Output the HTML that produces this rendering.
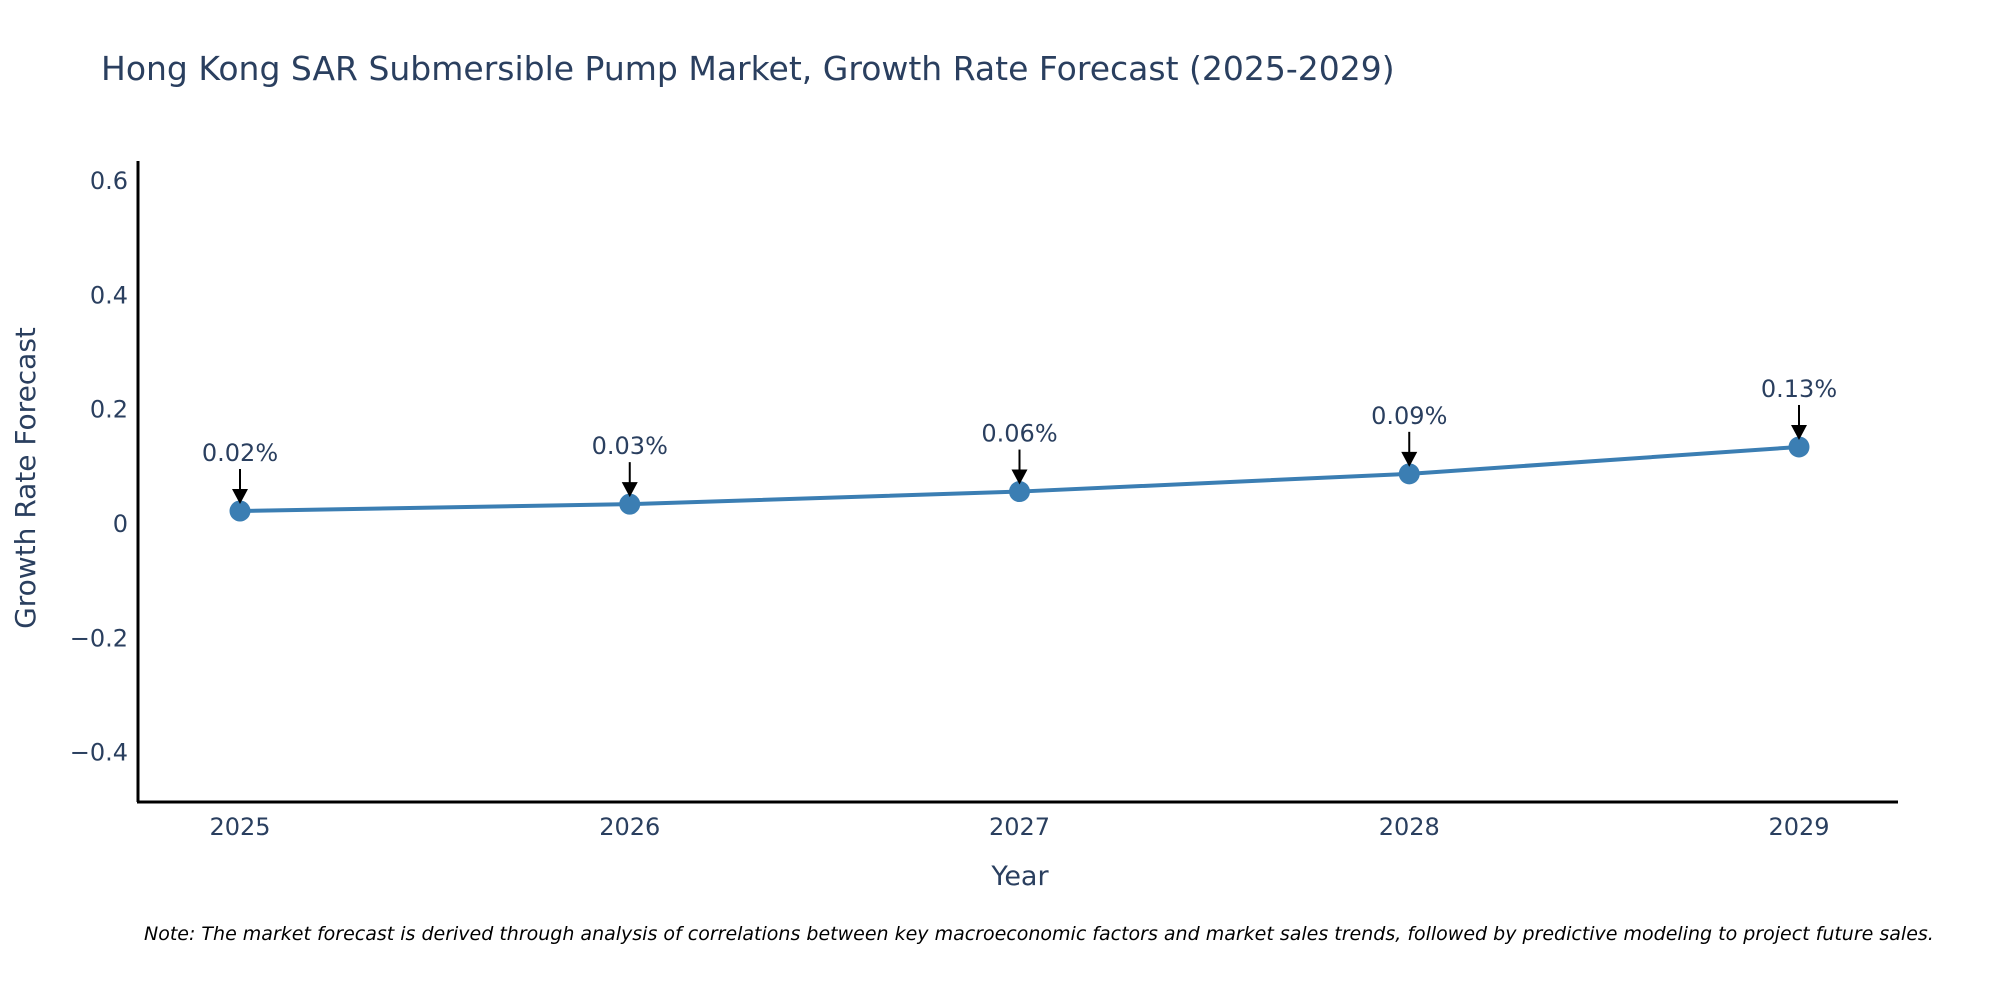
<!DOCTYPE html>
<html><head><meta charset="utf-8"><style>
body{margin:0;background:#fff;}
svg{display:block;font-family:"DejaVu Sans","Liberation Sans",sans-serif;}
</style></head><body>
<svg id="chart" width="2000" height="1000" viewBox="0 0 2000 1000">
<rect width="2000" height="1000" fill="#fff"/>
<text x="101" y="80" font-size="33" fill="#2a3f5f">Hong Kong SAR Submersible Pump Market, Growth Rate Forecast (2025-2029)</text>
<g id="yticks"></g>
<g id="xticks"></g>
<line x1="138" y1="161" x2="138" y2="802" stroke="#000" stroke-width="3"/>
<line x1="137" y1="802" x2="1898" y2="802" stroke="#000" stroke-width="3"/>
<text x="1020" y="885" font-size="27" fill="#2a3f5f" text-anchor="middle">Year</text>
<text transform="translate(35,478) rotate(-90)" font-size="28" fill="#2a3f5f" text-anchor="middle">Growth Rate Forecast</text>
<g id="series"></g>
<g id="annots"></g>
<text x="144" y="940" font-size="19" font-style="italic" fill="#000">Note: The market forecast is derived through analysis of correlations between key macroeconomic factors and market sales trends, followed by predictive modeling to project future sales.</text>
</svg>
<script>
const years = ["2025","2026","2027","2028","2029"];
const values = [0.021, 0.033, 0.055, 0.086, 0.133];
const labels = ["0.02%","0.03%","0.06%","0.09%","0.13%"];
const yTickVals = [-0.4,-0.2,0,0.2,0.4,0.6];
const yTickLabels = ["\u22120.4","\u22120.2","0","0.2","0.4","0.6"];
const NS="http://www.w3.org/2000/svg";
function xs(i){return 240+i*389.75;}
function ys(v){return 523-v*571.6;}
function mk(tag,attrs,parent){const e=document.createElementNS(NS,tag);for(const k in attrs)e.setAttribute(k,attrs[k]);parent.appendChild(e);return e;}
const yt=document.getElementById('yticks');
yTickVals.forEach((v,i)=>{const t=mk('text',{x:128,y:ys(v)+9,'font-size':24,fill:'#2a3f5f','text-anchor':'end'},yt);


t.textContent=yTickLabels[i];});
const xt=document.getElementById('xticks');
years.forEach((y,i)=>{const t=mk('text',{x:xs(i),y:835,'font-size':24,fill:'#2a3f5f','text-anchor':'middle'},xt);


t.textContent=y;});
const s=document.getElementById('series');
const pl=mk('polyline',{points:values.map((v,i)=>xs(i)+','+ys(v)).join(' '),fill:'none',stroke:'#3b7eb3','stroke-width':4},s);


values.forEach((v,i)=>{const c=mk('circle',{cx:xs(i),cy:ys(v),r:10.5,fill:'#3b7eb3'},s);

});
const a=document.getElementById('annots');
values.forEach((v,i)=>{const x=xs(i),y=ys(v);
const l=mk('line',{x1:x,y1:y-42,x2:x,y2:y-20,stroke:'#000','stroke-width':2},a);


const h=mk('polygon',{points:`${x-8},${y-22} ${x+8},${y-22} ${x},${y-7}`,fill:'#000'},a);


const t=mk('text',{x:x,y:y-50,'font-size':24,fill:'#2a3f5f','text-anchor':'middle'},a);


t.textContent=labels[i];});
</script>
</body></html>
